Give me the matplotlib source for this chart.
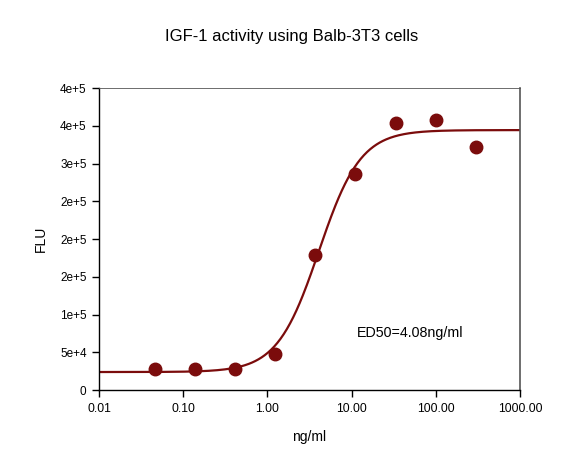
import numpy as np
import matplotlib
matplotlib.use("Agg")
import matplotlib.pyplot as plt
from matplotlib.ticker import FuncFormatter, FixedLocator

plt.rcParams['font.family'] = ['Liberation Sans', 'DejaVu Sans']

# Data
conc = [0.046, 0.137, 0.41, 1.23, 3.7, 11.1, 33.3, 100.0, 300.0]
flu = [27800, 28000, 27500, 47700, 179000, 287000, 353500, 358500, 322000]

# 4PL fit parameters
fit_bottom = 24000
fit_top = 344500
fit_ec50 = 4.08
fit_hill = 1.75

xticks = [0.01, 0.1, 1, 10, 100, 1000]
yticks = [0, 50000, 100000, 150000, 200000, 250000, 300000, 350000, 400000]

color = '#7b0c0c'

fig = plt.figure(figsize=(5.83, 4.5), dpi=100)
ax = fig.add_axes([0.170, 0.133, 0.722, 0.671])

xc = np.logspace(-2, 3, 400)
yc = fit_bottom + (fit_top - fit_bottom) / (1 + (fit_ec50 / xc) ** fit_hill)
ax.plot(xc, yc, color=color, lw=1.6, zorder=2)
ax.plot(conc, flu, 'o', color=color, ms=9, zorder=3)

ax.set_xscale('log')
ax.set_xlim(0.01, 1000)
ax.set_ylim(0, 400000)
ax.xaxis.set_major_locator(FixedLocator(xticks))
ax.xaxis.set_minor_locator(FixedLocator([]))
ax.xaxis.set_major_formatter(FuncFormatter(lambda v, p: f"{v:.2f}"))

def yfmt(v, p):
    if v == 0:
        return "0"
    s = f"{v:.0e}"
    m, e = s.split('e')
    return f"{m}e+{int(e)}"

ax.yaxis.set_major_locator(FixedLocator(yticks))
ax.yaxis.set_major_formatter(FuncFormatter(yfmt))

ax.tick_params(axis='both', which='both', direction='out', length=5, width=1,
               top=False, right=False, pad=4, colors='black')
ax.tick_params(axis='x', labelsize=8.8)
ax.tick_params(axis='y', labelsize=8.5)
for s in ['left', 'bottom']:
    ax.spines[s].set_linewidth(1.0)
ax.spines['top'].set_linewidth(0.6)
ax.spines['top'].set_color('#555555')
ax.spines['right'].set_linewidth(1.2)
ax.spines['right'].set_color('#555555')

ax.set_xlabel('ng/ml', fontsize=10, labelpad=11)
ax.set_ylabel('FLU', fontsize=10, labelpad=9)
fig.text(0.5, 0.918, 'IGF-1 activity using Balb-3T3 cells', ha='center', va='center', fontsize=12)
ax.text(0.612, 0.19, 'ED50=4.08ng/ml', transform=ax.transAxes, fontsize=10.3, ha='left', va='center')

fig.savefig('out.png', dpi=100)
